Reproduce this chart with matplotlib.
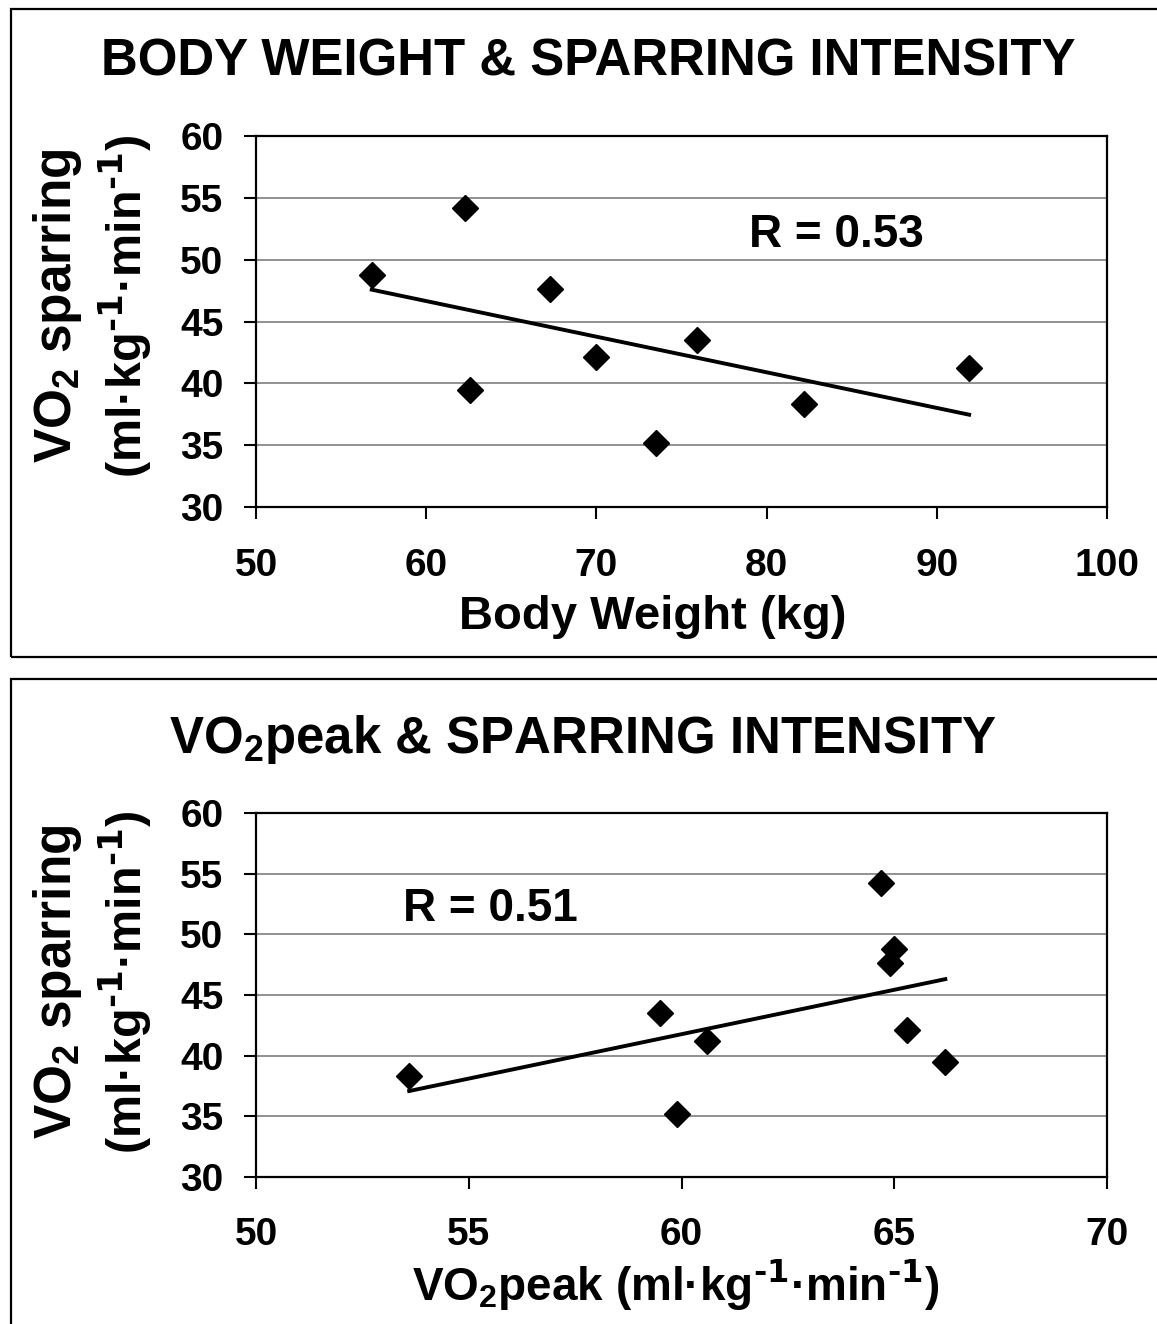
import numpy as np
import matplotlib.pyplot as plt
from matplotlib.patches import Rectangle

plt.rcParams['font.family'] = ['Liberation Sans', 'DejaVu Sans']
plt.rcParams['font.weight'] = 'bold'
plt.rcParams['mathtext.default'] = 'regular'

# one entry per athlete
vo2_sparring = [48.8, 54.2, 39.45, 47.6, 42.1, 43.5, 35.2, 38.3, 41.2]
body_weight = [56.8, 62.3, 62.6, 67.3, 70.0, 75.9, 73.5, 82.2, 91.9]
vo2_peak = [65.0, 64.7, 66.2, 64.9, 65.3, 59.5, 59.9, 53.6, 60.6]

r_weight = 'R = 0.53'
r_peak = 'R = 0.51'

units = '(ml·kg$^{\\text{-1}}$·min$^{\\text{-1}}$)'

W, H = 1157, 1324
fig = plt.figure(figsize=(W / 100, H / 100), dpi=100)

# outer frames round each chart
for top, bottom in [(9, 657), (679, 1330)]:
    fig.patches.append(Rectangle((11 / W, 1 - bottom / H), (1160 - 11) / W, (bottom - top) / H,
                                 transform=fig.transFigure, fill=False, lw=1.6, ec='black'))


def scatter_panel(ax, x, y, xlim, xticks, r_text, r_pos, xpad):
    ax.plot(x, y, 'D', color='black', ms=13, zorder=3)
    m, b = np.polyfit(x, y, 1)
    xs = np.array([min(x), max(x)])
    ax.plot(xs, m * xs + b, color='black', lw=2.8, zorder=2)
    ax.set_xlim(*xlim)
    ax.set_ylim(30, 60)
    ax.set_xticks(xticks)
    ax.set_yticks(range(30, 61, 5))
    ax.yaxis.grid(True, color='#888888', lw=1.3)
    ax.set_axisbelow(True)
    for s in ax.spines.values():
        s.set_linewidth(1.6)
    ax.tick_params(direction='out', length=8.5, width=1.5, labelsize=28)
    ax.tick_params(axis='x', pad=xpad)
    ax.tick_params(axis='y', pad=15)
    ax.text(r_pos[0], r_pos[1], r_text, fontsize=33, ha='center', va='baseline')


ax1 = fig.add_axes([256 / W, 1 - 507 / H, 851 / W, 371 / H])
scatter_panel(ax1, body_weight, vo2_sparring, (50, 100), range(50, 101, 10),
              r_weight, (84.1, 51.0), 21)
ax1.text(0.4665, -0.329, 'Body Weight (kg)', transform=ax1.transAxes,
         ha='center', va='baseline', fontsize=34)

ax2 = fig.add_axes([256 / W, 1 - 1177 / H, 851 / W, 364 / H])
scatter_panel(ax2, vo2_peak, vo2_sparring, (50, 70), range(50, 71, 5),
              r_peak, (55.5, 51.1), 20)
ax2.text(0.4935, -0.341, 'VO$_2$peak ' + units, transform=ax2.transAxes,
         ha='center', va='baseline', fontsize=33)

fig.text(588 / W, 1 - 76 / H, 'BODY WEIGHT & SPARRING INTENSITY',
         ha='center', va='baseline', fontsize=36.7)
fig.text(583 / W, 1 - 753 / H, 'VO$_2$peak & SPARRING INTENSITY',
         ha='center', va='baseline', fontsize=36.7)

# two-line y titles
for yc_px in [306, 982]:
    yc = 1 - yc_px / H
    fig.text(57 / W, yc, 'VO$_2$ sparring', rotation=90,
             ha='center', va='center', fontsize=37)
    fig.text(125 / W, yc, units, rotation=90,
             ha='center', va='center', fontsize=35)

fig.savefig('out.png', dpi=100)
